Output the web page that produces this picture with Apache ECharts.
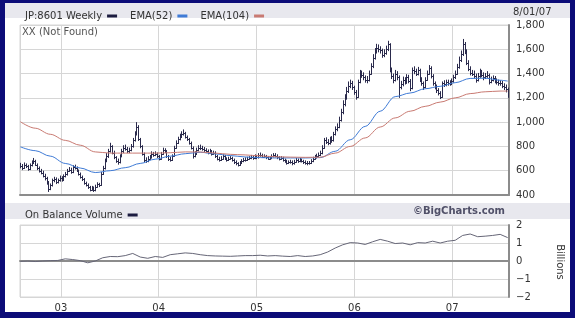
<!DOCTYPE html>
<html><head><meta charset="utf-8">
<script src="https://cdn.jsdelivr.net/npm/echarts@6/dist/echarts.min.js"></script>
<style>html,body{margin:0;padding:0;background:#fff}#c{width:575px;height:318px}</style>
</head><body><div id="c"></div><script>
// ---------------- data ----------------
const firstWeek = [2002, 7, 2]; // first weekly bar: 2 Aug 2002
const weeklyClose = [
640,625,650,635,615,645,665,680,650,620,
600,585,560,540,500,450,480,520,530,505,
520,540,525,555,570,600,610,590,630,625,
600,575,550,530,500,480,465,445,460,440,
470,490,480,575,620,680,720,760,800,750,
710,680,670,720,760,790,780,760,770,800,
850,900,960,860,800,740,690,680,700,710,
740,730,740,720,700,740,770,760,720,700,
690,720,790,830,860,880,900,910,880,860,
830,790,720,740,770,790,790,780,770,760,
750,760,740,750,720,700,690,700,720,700,
690,700,705,690,670,660,650,665,680,690,
690,700,705,715,705,720,710,730,730,715,
720,710,700,705,720,730,725,710,700,705,
690,680,665,670,672,660,675,690,680,690,
680,670,665,660,665,680,700,710,720,730,
745,790,850,840,830,860,850,900,940,960,
1020,1080,1150,1200,1260,1300,1320,1290,1250,1210,
1330,1400,1390,1370,1350,1350,1400,1460,1530,1580,
1610,1600,1590,1550,1570,1600,1640,1430,1380,1350,
1400,1370,1290,1310,1350,1330,1370,1340,1280,1430,
1420,1400,1430,1350,1320,1290,1350,1400,1445,1380,
1320,1290,1265,1240,1210,1320,1310,1330,1320,1320,
1340,1370,1400,1455,1510,1560,1640,1580,1490,1440,
1405,1400,1380,1350,1380,1405,1390,1370,1380,1390,
1330,1350,1360,1340,1330,1320,1320,1300,1290,1270,
1225];
const weeklyHigh = [
665,655,668,660,648,660,685,705,690,660,
635,615,600,575,550,515,495,535,550,545,
535,560,555,570,590,615,630,625,645,650,
635,610,585,560,540,510,495,475,475,470,
485,505,500,590,640,700,745,780,830,810,
765,720,700,735,780,810,815,795,790,820,
870,925,1000,975,870,810,750,710,720,730,
760,755,760,750,730,755,790,785,770,730,
715,735,805,850,880,905,925,940,920,890,
870,840,800,760,790,810,815,805,795,785,
775,780,770,765,760,730,715,720,735,730,
710,715,720,715,700,685,670,680,695,705,
710,715,720,730,725,735,730,745,750,740,
735,730,720,720,735,745,745,735,720,720,
715,700,690,685,690,685,690,705,700,705,
700,690,685,680,680,695,715,730,740,750,
765,810,870,875,860,880,885,920,965,990,
1045,1110,1180,1230,1290,1335,1350,1340,1300,1265,
1350,1430,1425,1410,1385,1380,1425,1485,1560,1610,
1645,1640,1625,1605,1600,1630,1670,1650,1450,1400,
1430,1420,1385,1340,1375,1370,1395,1390,1355,1450,
1460,1440,1455,1440,1370,1335,1370,1425,1470,1460,
1395,1335,1310,1280,1255,1335,1345,1350,1350,1345,
1360,1390,1425,1480,1540,1590,1685,1660,1600,1510,
1460,1430,1425,1400,1405,1440,1430,1410,1405,1420,
1400,1375,1385,1380,1360,1350,1345,1340,1320,1310,
1285];
const weeklyLow = [
620,605,615,622,600,605,635,655,640,605,
585,570,545,520,485,425,440,470,505,490,
495,510,510,515,545,560,590,575,580,610,
590,560,535,515,485,470,450,430,435,425,
430,460,465,475,565,610,670,705,750,735,
695,665,650,660,710,745,765,745,745,760,
790,840,890,845,785,725,670,665,670,690,
700,715,720,705,685,690,730,745,705,680,
675,680,715,780,820,850,870,890,865,845,
815,775,700,710,730,760,770,765,755,745,
735,740,725,730,705,685,675,680,690,690,
675,680,690,675,655,645,635,640,655,670,
675,680,690,695,690,695,695,700,715,705,
705,695,690,690,695,710,710,695,685,690,
675,665,650,655,658,645,650,665,665,670,
668,655,650,645,650,655,670,690,700,710,
720,735,780,820,810,815,830,840,890,925,
950,1005,1065,1130,1185,1240,1280,1265,1225,1185,
1200,1320,1365,1345,1325,1320,1335,1390,1445,1515,
1565,1575,1565,1530,1535,1555,1585,1410,1355,1320,
1335,1345,1200,1270,1295,1310,1315,1320,1255,1270,
1395,1380,1385,1330,1300,1265,1280,1340,1390,1360,
1300,1270,1240,1220,1190,1200,1290,1295,1300,1300,
1305,1325,1355,1390,1440,1495,1545,1560,1470,1420,
1385,1380,1360,1325,1335,1365,1370,1345,1355,1365,
1310,1320,1335,1320,1310,1300,1300,1280,1265,1245,
1200];
const emaWeekIndex = [0,8,16,24,32,40,48,56,64,72,80,88,96,104,112,120,128,136,144,152,160,168,176,184,192,200,208,216,224,232,240,248,256,260];
const ema52 = [797,765,720,660,622,585,600,625,660,695,720,740,752,738,725,713,708,705,705,705,708,760,855,965,1090,1210,1240,1275,1295,1325,1360,1362,1345,1338];
const ema104 = [1004,950,900,850,810,755,745,745,745,745,748,755,754,745,735,730,722,715,712,710,711,745,800,870,960,1035,1090,1130,1165,1200,1235,1250,1256,1256];
const obvWeekIndex = [0,4,8,12,16,20,24,28,32,36,40,44,48,52,56,60,64,68,72,76,80,84,88,92,96,100,104,108,112,116,120,124,128,132,136,140,144,148,152,156,160,164,168,172,176,180,184,188,192,196,200,204,208,212,216,220,224,228,232,236,240,244,248,252,256,260];
const obvBillions = [
-0.02,0.0,-0.03,0.0,0.02,0.03,0.12,0.08,0.02,-0.1,
0.0,0.18,0.25,0.24,0.3,0.42,0.22,0.15,0.25,0.2,
0.35,0.4,0.45,0.42,0.35,0.3,0.28,0.27,0.26,0.28,
0.3,0.3,0.32,0.28,0.3,0.27,0.25,0.3,0.25,0.28,
0.35,0.5,0.72,0.9,1.02,1.0,0.92,1.07,1.2,1.1,
0.97,1.0,0.9,1.02,1.0,1.1,1.0,1.1,1.15,1.42,
1.5,1.35,1.38,1.42,1.48,1.3];
const priceAxis = {min: 400, max: 1800, step: 200};
const obvAxis = {min: -2, max: 2, step: 1};
const axisStart = [2002, 7, 1], axisEnd = [2007, 7, 1];

// ---------------- build ----------------
const DAY = 86400000;
const t0 = new Date(firstWeek[0], firstWeek[1], firstWeek[2]).getTime();
const wk = i => t0 + i * 7 * DAY;
const ohlc = weeklyClose.map((c, i) => [wk(i), i > 0 ? weeklyClose[i - 1] : c, weeklyHigh[i], weeklyLow[i], c]);
const emaFast = emaWeekIndex.map((w, k) => [wk(w), ema52[k]]);
const emaSlow = emaWeekIndex.map((w, k) => [wk(w), ema104[k]]);
const obv = obvWeekIndex.map((w, k) => [wk(w), obvBillions[k]]);
const xMin = new Date(...axisStart).getTime(), xMax = new Date(...axisEnd).getTime();
const YEAR = 365 * DAY;

const FONT = 'DejaVu Sans';
const barColor = '#2a2a4c', blue = '#3f7bd6', red = '#c97a72';
const gridLine = '#d6d6d6', axisCol = '#8c8c8c';

const chart = echarts.init(document.getElementById('c'), null, {renderer: 'canvas'});
const xCommon = (gi, labels) => ({
  type: 'time', gridIndex: gi, min: xMin, max: xMax,
  minInterval: YEAR, maxInterval: 366 * DAY,
  axisLine: {show: true, lineStyle: {color: axisCol, width: 2}},
  axisTick: {show: false},
  splitLine: {show: true, lineStyle: {color: gridLine, width: 1}},
  axisLabel: labels ? {
    show: true, margin: 6, fontSize: 10, color: '#333', fontFamily: FONT,
    showMinLabel: false, showMaxLabel: false,
    formatter: v => String(new Date(v).getFullYear()).slice(2)
  } : {show: false}
});

chart.setOption({
  animation: false,
  backgroundColor: '#ffffff',
  textStyle: {fontFamily: FONT},
  graphic: [
    {type: 'rect', shape: {x: 0, y: 3, width: 575, height: 15}, style: {fill: '#e8e8ee'}, silent: true},
    {type: 'rect', shape: {x: 0, y: 203, width: 575, height: 16}, style: {fill: '#e8e8ee'}, silent: true},
    {type: 'text', x: 22, y: 32, style: {text: 'XX (Not Found)', fill: '#555', font: '10px "DejaVu Sans"', textVerticalAlign: 'middle'}, silent: true},
    {type: 'text', x: 513, y: 12, style: {text: '8/01/07', fill: '#333', font: '10px "DejaVu Sans"', textVerticalAlign: 'middle'}, silent: true},
    {type: 'text', x: 505, y: 211, style: {text: '©BigCharts.com', fill: '#505068', font: 'bold 10px "DejaVu Sans"', textAlign: 'right', textVerticalAlign: 'middle'}, silent: true},
    {type: 'text', x: 560, y: 262, rotation: -Math.PI / 2, style: {text: 'Billions', fill: '#333', font: '10px "DejaVu Sans"', textAlign: 'center', textVerticalAlign: 'middle'}, silent: true},
    // navy frame
    {type: 'rect', shape: {x: 0, y: 0, width: 575, height: 3}, style: {fill: '#0c0c78'}, z: 100, silent: true},
    {type: 'rect', shape: {x: 0, y: 312, width: 575, height: 6}, style: {fill: '#0c0c78'}, z: 100, silent: true},
    {type: 'rect', shape: {x: 0, y: 0, width: 5, height: 318}, style: {fill: '#0c0c78'}, z: 100, silent: true},
    {type: 'rect', shape: {x: 570, y: 0, width: 5, height: 318}, style: {fill: '#0c0c78'}, z: 100, silent: true}
  ],
  legend: [{
    left: 20, top: 6, align: 'right', icon: 'rect', itemWidth: 10, itemHeight: 3, itemGap: 13,
    selectedMode: false,
    textStyle: {fontSize: 10, color: '#333', fontFamily: FONT},
    data: [{name: 'JP:8601 Weekly', itemStyle: {color: '#1c1c40'}}, {name: 'EMA(52)'}, {name: 'EMA(104)'}]
  }, {
    left: 20, top: 205, align: 'right', icon: 'rect', itemWidth: 10, itemHeight: 3,
    selectedMode: false,
    textStyle: {fontSize: 10, color: '#333', fontFamily: FONT},
    data: [{name: 'On Balance Volume', itemStyle: {color: '#1c1c40'}}]
  }],
  grid: [
    {left: 20, top: 25, width: 489, height: 170, show: true, borderColor: gridLine, borderWidth: 1, backgroundColor: '#fff'},
    {left: 20, top: 225, width: 489, height: 72, show: true, borderColor: gridLine, borderWidth: 1, backgroundColor: '#fff'}
  ],
  xAxis: [xCommon(0, false), xCommon(1, true)],
  yAxis: [{
    type: 'value', gridIndex: 0, position: 'right',
    min: priceAxis.min, max: priceAxis.max, interval: priceAxis.step,
    axisLine: {show: true, lineStyle: {color: axisCol, width: 2}},
    axisTick: {show: false},
    axisLabel: {margin: 7, fontSize: 10, color: '#333', fontFamily: FONT},
    splitLine: {show: true, lineStyle: {color: gridLine}}
  }, {
    type: 'value', gridIndex: 1, position: 'right',
    min: obvAxis.min, max: obvAxis.max, interval: obvAxis.step,
    axisLine: {show: true, lineStyle: {color: axisCol, width: 2}},
    axisTick: {show: false},
    axisLabel: {margin: 7, fontSize: 10, color: '#333', fontFamily: FONT,
      formatter: v => v < 0 ? '\u2212' + (-v) : String(v)},
    splitLine: {show: true, lineStyle: {color: gridLine}}
  }],
  series: [{
    name: 'JP:8601 Weekly', type: 'custom', xAxisIndex: 0, yAxisIndex: 0,
    itemStyle: {color: barColor},
    dimensions: ['t', 'open', 'high', 'low', 'close'],
    encode: {x: 0, y: [1, 2, 3, 4]},
    clip: true, z: 2,
    renderItem: function (params, api) {
      const t = api.value(0);
      const pO = api.coord([t, api.value(1)]);
      const pH = api.coord([t, api.value(2)]);
      const pL = api.coord([t, api.value(3)]);
      const pC = api.coord([t, api.value(4)]);
      const x = Math.round(pH[0]) + 0.5;
      const st = {stroke: barColor, lineWidth: 1};
      const yo = Math.round(pO[1]) + 0.5, yc = Math.round(pC[1]) + 0.5;
      return {type: 'group', children: [
        {type: 'line', shape: {x1: x, y1: pH[1], x2: x, y2: pL[1]}, style: st},
        {type: 'line', shape: {x1: x - 1.5, y1: yo, x2: x, y2: yo}, style: st},
        {type: 'line', shape: {x1: x, y1: yc, x2: x + 1.5, y2: yc}, style: st}
      ]};
    },
    data: ohlc
  }, {
    name: 'EMA(52)', type: 'line', xAxisIndex: 0, yAxisIndex: 0, data: emaFast,
    showSymbol: false, smooth: 0.35, smoothMonotone: 'x', z: 3,
    lineStyle: {color: blue, width: 1}, itemStyle: {color: blue}
  }, {
    name: 'EMA(104)', type: 'line', xAxisIndex: 0, yAxisIndex: 0, data: emaSlow,
    showSymbol: false, smooth: 0.35, smoothMonotone: 'x', z: 3,
    lineStyle: {color: red, width: 1}, itemStyle: {color: red}
  }, {
    name: 'On Balance Volume', type: 'line', xAxisIndex: 1, yAxisIndex: 1, data: obv,
    showSymbol: false, z: 3,
    lineStyle: {color: '#666677', width: 1}, itemStyle: {color: '#1c1c40'}
  }]
});
</script></body></html>
